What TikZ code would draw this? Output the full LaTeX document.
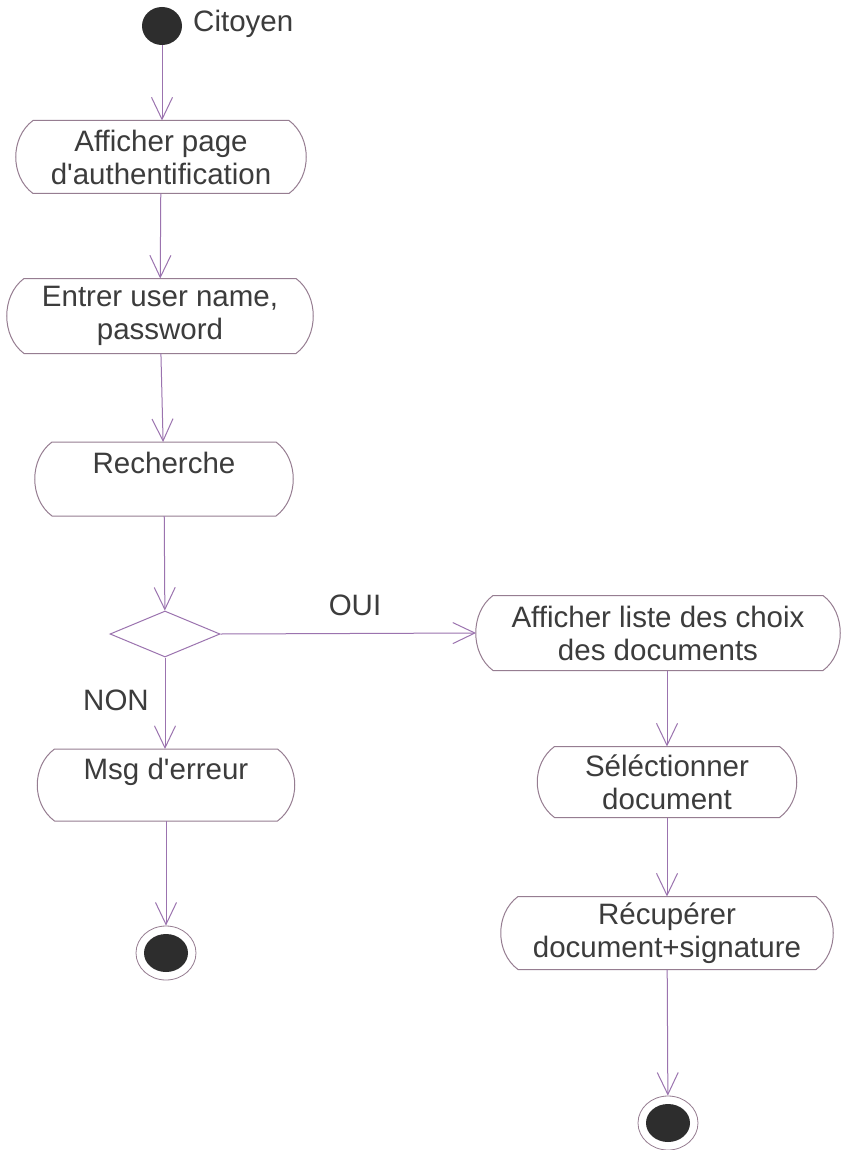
\documentclass[tikz,border=0pt]{standalone}
\usepackage{fontspec}
\setmainfont[Ligatures={TeXOff,NoCommon}]{Liberation Sans}
\usetikzlibrary{arrows.meta,shapes.geometric,calc}
\definecolor{boxcol}{RGB}{150,125,145}
\definecolor{arrcol}{RGB}{155,115,175}
\definecolor{txtcol}{RGB}{60,60,60}
\definecolor{dotcol}{RGB}{45,45,45}
\newcommand\actoutline[1]{%
  \draw[boxline] ([xshift=17pt]#1.north west) -- ([xshift=-17pt]#1.north east)
    .. controls ([xshift=6pt,yshift=-17pt]#1.north east) and ([xshift=6pt,yshift=17pt]#1.south east) .. ([xshift=-17pt]#1.south east)
    -- ([xshift=17pt]#1.south west)
    .. controls ([xshift=-6pt,yshift=17pt]#1.south west) and ([xshift=-6pt,yshift=-17pt]#1.north west) .. cycle;}
\begin{document}
\begin{tikzpicture}[x=1pt,y=-1pt,
  font=\fontsize{29.5}{33}\selectfont,
  every node/.style={text=txtcol},
  actbox/.style={rectangle, inner sep=0pt, outer sep=0pt, align=center},
  boxline/.style={draw=boxcol, line width=1pt},
  flow/.style={draw=arrcol, line width=1pt, -{Straight Barb[length=22pt,width=21pt]}},
  startdot/.style={ellipse, fill=dotcol, minimum width=40pt, minimum height=38pt, inner sep=0pt},
  enddot/.style={ellipse, draw=boxcol, line width=0.8pt, fill=white, minimum width=60pt, minimum height=54pt, inner sep=0pt,
     path picture={\fill[dotcol] (path picture bounding box.center) ellipse [x radius=22pt, y radius=19pt];}},
  decision/.style={diamond, draw=arrcol, line width=1pt, minimum width=110pt, minimum height=46pt, inner sep=0pt},
  lbl/.style={inner sep=0pt}
]
\useasboundingbox (0,0) rectangle (849,1150);
\fill[white] (0,0) rectangle (849,1150);

\node[startdot] (start) at (162,26) {};
\node[lbl, anchor=west] (cit) at (193,24) {Citoyen};

\node[actbox, minimum width=290pt, minimum height=73pt] (b1) at (161,157) {Afficher page\\d'authentification};
\node[actbox, minimum width=306pt, minimum height=75pt] (b2) at (160,316) {Entrer user name,\\password};
\node[actbox, minimum width=258pt, minimum height=74pt] (b3) at (164,479) {Recherche\\\mbox{}};
\node[decision] (dec) at (165,634) {};
\node[actbox, minimum width=364pt, minimum height=75pt] (b4) at (658,633) {Afficher liste des choix\\des documents};
\node[actbox, minimum width=257pt, minimum height=72pt] (b5) at (166,785) {Msg d'erreur\\\mbox{}};
\node[actbox, minimum width=259pt, minimum height=71pt] (b6) at (667,782) {Séléctionner\\document};
\node[actbox, minimum width=332pt, minimum height=73pt] (b7) at (667,933) {Récupérer\\document+signature};
\node[enddot] (end1) at (166,953) {};
\node[enddot] (end2) at (668,1123) {};

\actoutline{b1}
\actoutline{b2}
\actoutline{b3}
\actoutline{b4}
\actoutline{b5}
\actoutline{b6}
\actoutline{b7}

\node[lbl] (oui) at (355,605) {OUI};
\node[lbl] (non) at (116,700) {NON};

\draw[flow] (start) -- (b1.north -| start);
\draw[flow] (b1) -- (b2);
\draw[flow] (b2) -- (b3);
\draw[flow] (b3) -- (dec);
\draw[flow] (dec.east) -- (b4.west);
\draw[flow] (dec) -- (b5.north -| dec);
\draw[flow] (b5) -- (end1);
\draw[flow] (b6.north |- b4.south) -- (b6.north);
\draw[flow] (b6) -- (b7);
\draw[flow] (b7) -- (end2);
\end{tikzpicture}
\end{document}
